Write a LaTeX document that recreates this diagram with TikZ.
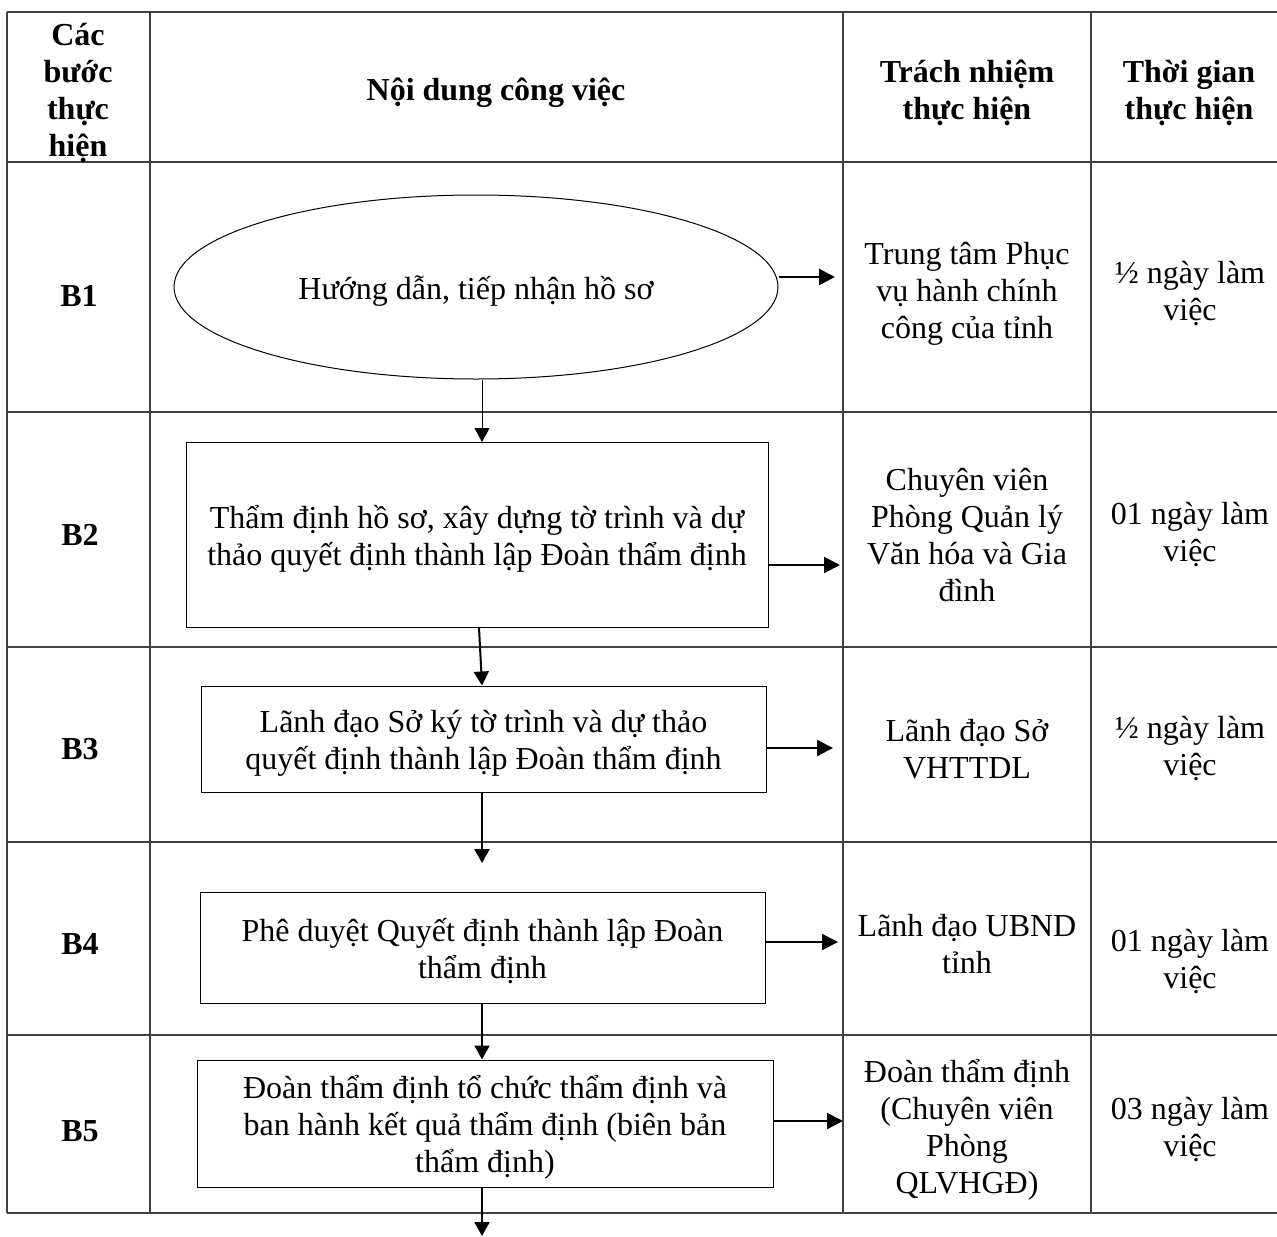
\documentclass[tikz,border=0pt]{standalone}
\usepackage{fontspec}
\setmainfont{Liberation Serif}
\usetikzlibrary{shapes.geometric,arrows.meta}
\tikzset{
    fnt/.style={align=center,font=\fontsize{16}{18.5}\selectfont},
    txt/.style={fnt,yshift=-2pt},
    hdr/.style={txt,font=\fontsize{16}{18.5}\selectfont\bfseries},
    stepbox/.style={draw,line width=0.5pt,inner sep=0pt},
    grid/.style={line width=0.75pt,draw=black!75},
    rarrow/.style={line width=1.4pt,-{Triangle[length=8pt,width=8pt]}},
    darrow/.style={line width=1pt,-{Triangle[length=7pt,width=7.5pt]}},
}
\begin{document}
\begin{tikzpicture}[x=0.5pt,y=-0.5pt]
        \useasboundingbox (0,0) rectangle (1277,1236);
        %% Table
        \foreach \yy in {12,162,412,647,842,1035,1213}
            \draw[grid] (7,\yy) -- (1277,\yy);
        \foreach \xx in {7,150,843,1091}
            \draw[grid] (\xx,12) -- (\xx,1213);
        %% Header
        \node[hdr] (h1) at (78,89) {Các\\bước\\thực\\hiện};
        \node[hdr] (h2) at (496,89) {Nội dung công việc};
        \node[hdr] (h3) at (967,89) {Trách nhiệm\\thực hiện};
        \node[hdr] (h4) at (1189,89) {Thời gian\\thực hiện};
        %% Steps
        \node[hdr] (s1) at (79,292) {B1};
        \node[hdr] (s2) at (80,531) {B2};
        \node[hdr] (s3) at (80,745) {B3};
        \node[hdr] (s4) at (80,940) {B4};
        \node[hdr] (s5) at (80,1127) {B5};
        %% Work
        \node[ellipse,stepbox,minimum width=302pt,minimum height=92pt]
            (ell) at (476,287) {};
        \node[txt] (ellt) at (ell) {Hướng dẫn, tiếp nhận hồ sơ};
        \node[stepbox,minimum width=291pt,minimum height=92.5pt] (b2)
            at (477,534.5) {};
        \node[txt] (b2t) at (b2) {Thẩm định hồ sơ, xây dựng tờ trình và dự\\
            thảo quyết định thành lập Đoàn thẩm định};
        \node[stepbox,minimum width=282.5pt,minimum height=53pt] (b3)
            at (483.5,739) {};
        \node[txt] (b3t) at (b3) {Lãnh đạo Sở ký tờ trình và dự thảo\\
            quyết định thành lập Đoàn thẩm định};
        \node[stepbox,minimum width=282.5pt,minimum height=55.5pt] (b4)
            at (482.5,947.5) {};
        \node[txt] (b4t) at (b4) {Phê duyệt Quyết định thành lập Đoàn\\thẩm định};
        \node[stepbox,minimum width=288pt,minimum height=63.5pt] (b5)
            at (485,1123.5) {};
        \node[txt] (b5t) at (b5) {Đoàn thẩm định tổ chức thẩm định và\\
            ban hành kết quả thẩm định (biên bản\\thẩm định)};
        %% Responsibility
        \node[txt] (r1) at (967,290) {Trung tâm Phục\\vụ hành chính\\công của tỉnh};
        \node[txt] (r2) at (967,531) {Chuyên viên\\Phòng Quản lý\\Văn hóa và Gia\\đình};
        \node[txt] (r3) at (967,745) {Lãnh đạo Sở\\VHTTDL};
        \node[txt] (r4) at (967,940) {Lãnh đạo UBND\\tỉnh};
        \node[txt] (r5) at (967,1126) {Đoàn thẩm định\\(Chuyên viên\\Phòng\\QLVHGĐ)};
        %% Time
        \node[txt] (t1) at (1190,290) {½ ngày làm\\việc};
        \node[txt] (t2) at (1190,531) {01 ngày làm\\việc};
        \node[txt] (t3) at (1190,745) {½ ngày làm\\việc};
        \node[txt] (t4) at (1190,958) {01 ngày làm\\việc};
        \node[txt] (t5) at (1190,1126) {03 ngày làm\\việc};
        %% Arrows
        \coordinate (e1) at (835,277);
        \coordinate (e2) at (840,565);
        \coordinate (e3) at (833,748);
        \coordinate (e4) at (838,942);
        \coordinate (e5) at (843,1121);
        \coordinate (d2) at (482,442);
        \coordinate (d4) at (482,863);
        \coordinate (d6) at (482,1236);
        \draw[rarrow] (ell.east |- e1) -- (e1);
        \draw[rarrow,line width=1pt] (b2.east |- e2) -- (e2);
        \draw[rarrow,line width=1pt] (b3.east |- e3) -- (e3);
        \draw[rarrow,line width=1pt] (b4.east |- e4) -- (e4);
        \draw[rarrow,line width=1pt] (b5.east |- e5) -- (e5);
        \draw[darrow,line width=0.5pt] (ell.south -| d2) -- (d2);
        \draw[darrow] (b2.south -| 479,0) -- (b3.north -| d2);
        \draw[darrow] (b3.south -| d4) -- (d4);
        \draw[darrow] (b4.south -| d6) -- (b5.north -| d6);
        \draw[darrow] (b5.south -| d6) -- (d6);
\end{tikzpicture}
\end{document}
